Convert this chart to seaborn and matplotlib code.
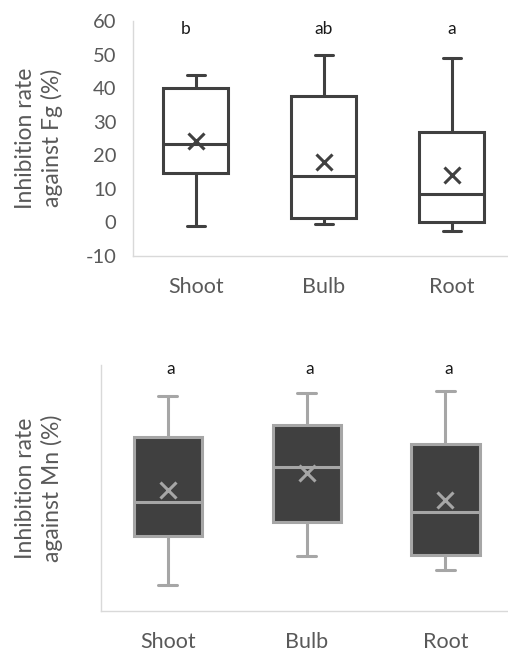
import numpy as np
import pandas as pd
import matplotlib
matplotlib.use("Agg")
import matplotlib.pyplot as plt
import seaborn as sns

# Plant parts (x categories)
parts = ["Shoot", "Bulb", "Root"]

# Inhibition against Fg (%): five-number summaries and means
fg_min = [-1.0, -0.5, -2.6]
fg_q1 = [14.7, 1.2, 0.1]
fg_median = [23.3, 13.8, 8.6]
fg_q3 = [39.9, 37.6, 26.8]
fg_max = [43.8, 50.0, 49.1]
fg_mean = [24.3, 17.9, 14.1]
fg_letters = ["b", "ab", "a"]
fg_ticks = [-10, 0, 10, 20, 30, 40, 50, 60]

# Inhibition against Mn (%): five-number summaries and means (relative scale, unlabeled axis)
mn_min = [10.4, 22.4, 16.8]
mn_q1 = [30.4, 36.2, 22.9]
mn_median = [44.4, 58.6, 40.3]
mn_q3 = [70.6, 75.6, 67.8]
mn_max = [87.5, 88.7, 89.4]
mn_mean = [49.1, 56.2, 45.0]
mn_letters = ["a", "a", "a"]

sns.set_theme(style="white")
plt.rcParams["font.family"] = ["Lato", "DejaVu Sans"]
plt.rcParams["axes.unicode_minus"] = False

TEXT = "#595959"
DARK = "#404040"
LIGHT = "#A6A6A6"
SPINE = "#D9D9D9"
LETTER = "#1A1A1A"


def summary_frame(lo, q1, med, q3, hi):
    rows = []
    for i, p in enumerate(parts):
        for v in (lo[i], q1[i], med[i], q3[i], hi[i]):
            rows.append({"part": p, "value": v})
    return pd.DataFrame(rows)


def style_axes(ax, xlim):
    sns.despine(ax=ax)
    for s in ("left", "bottom"):
        ax.spines[s].set_color(SPINE)
        ax.spines[s].set_linewidth(1.0)
    ax.set_xlabel("")
    ax.set_ylabel("")
    ax.tick_params(axis="x", length=0, pad=15, labelsize=15.5, labelcolor=TEXT)
    ax.tick_params(axis="y", length=0, pad=12, labelsize=14.5, labelcolor=TEXT)
    ax.set_xlim(*xlim)


fig = plt.figure(figsize=(5.08, 6.55), dpi=100)
ax1 = fig.add_axes([0.2618, 0.6092, 0.7382, 0.3588])
ax2 = fig.add_axes([0.1988, 0.0672, 0.8012, 0.3756])

# Top panel: open boxes
df_fg = summary_frame(fg_min, fg_q1, fg_median, fg_q3, fg_max)
sns.boxplot(data=df_fg, x="part", y="value", order=parts, whis=(0, 100),
            width=0.51, color="white", linecolor=DARK, linewidth=2.2,
            saturation=1, capwidths=0.14, ax=ax1)
sns.pointplot(x=parts, y=fg_mean, order=parts, linestyle="none", marker="x",
              markersize=11, markeredgewidth=2.2, color=DARK, errorbar=None,
              ax=ax1, zorder=5)
ax1.set_ylim(-10, 60)
ax1.set_yticks(fg_ticks)
style_axes(ax1, (-0.49, 2.44))
for i, t in enumerate(fg_letters):
    dx = -0.08 if i == 0 else 0.0
    ax1.text(i + dx, 57.5, t, ha="center", va="center", fontsize=12.5,
             color=LETTER, clip_on=False)

# Bottom panel: filled boxes
df_mn = summary_frame(mn_min, mn_q1, mn_median, mn_q3, mn_max)
sns.boxplot(data=df_mn, x="part", y="value", order=parts, whis=(0, 100),
            width=0.49, color=DARK, linecolor=LIGHT, linewidth=2.2,
            saturation=1, capwidths=0.14, ax=ax2)
sns.pointplot(x=parts, y=mn_mean, order=parts, linestyle="none", marker="x",
              markersize=11, markeredgewidth=2.2, color=LIGHT, errorbar=None,
              ax=ax2, zorder=5)
ax2.set_ylim(0, 100)
ax2.set_yticks([])
style_axes(ax2, (-0.48, 2.45))
for i, t in enumerate(mn_letters):
    ax2.text(i + 0.02, 98.2, t, ha="center", va="center", fontsize=12.5,
             color=LETTER, clip_on=False)

# Axis titles
fig.text(39 / 508, 1 - 138 / 655, "Inhibition rate\nagainst Fg (%)",
         rotation=90, ha="center", va="center", ma="center",
         fontsize=16.5, color=TEXT, linespacing=1.3)
fig.text(39 / 508, 1 - 488 / 655, "Inhibition rate\nagainst Mn (%)",
         rotation=90, ha="center", va="center", ma="center",
         fontsize=16.5, color=TEXT, linespacing=1.3)

fig.savefig("out.png", dpi=100)
